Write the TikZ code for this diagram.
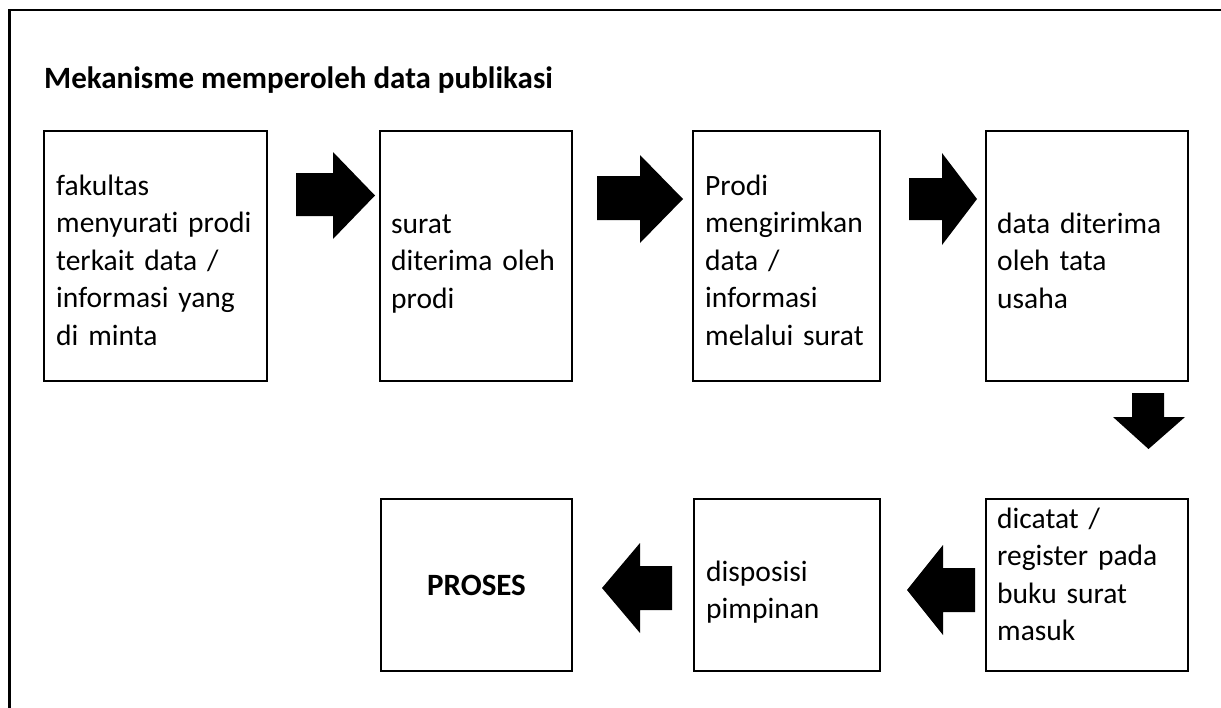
\documentclass[tikz,border=0pt]{standalone}
\usepackage{fontspec}
\setmainfont{Carlito}[Ligatures=NoCommon]
\begin{document}
\begin{tikzpicture}[x=1pt,y=-1pt,
  box/.style={draw,line width=2.3pt,inner sep=0pt},
  txt/.style={inner sep=0pt,anchor=base west,align=left,text width=260pt,
              font=\fontsize{29.5}{37.5}\selectfont},
  blk/.style={fill=black}]
\useasboundingbox (0,0) rectangle (1221,707);
% frame
\draw[line width=2.8pt] (9.5,708) -- (9.5,10) -- (1222,10);
% title
\node[inner sep=0pt,anchor=base west,font=\bfseries\fontsize{31}{37}\selectfont] (title) at (44,88) {Mekanisme memperoleh data publikasi};
% boxes top row
\node[box,minimum width=223pt,minimum height=250pt] (b1) at (155.5,256) {};
\node[box,minimum width=192pt,minimum height=250pt] (b2) at (476,256) {};
\node[box,minimum width=187pt,minimum height=250pt] (b3) at (786.5,256) {};
\node[box,minimum width=202pt,minimum height=250pt] (b4) at (1087,256) {};
% boxes bottom row
\node[box,minimum width=202pt,minimum height=172pt] (b5) at (1087,585) {};
\node[box,minimum width=186pt,minimum height=172pt] (b6) at (787,585) {};
\node[box,minimum width=191pt,minimum height=172pt,font=\bfseries\fontsize{31}{37}\selectfont] (b7) at (476.5,585) {PROSES};
% texts
\node[txt] (t1) at (56,195) {fakultas\\menyurati prodi\\terkait data /\\informasi yang\\di minta};
\node[txt] (t2) at (391,233) {surat\\diterima oleh\\prodi};
\node[txt] (t3) at (705,195) {Prodi\\mengirimkan\\data /\\informasi\\melalui surat};
\node[txt] (t4) at (997,233) {data diterima\\oleh tata\\usaha};
\node[txt] (t5) at (997,528) {dicatat /\\register pada\\buku surat\\masuk};
\node[txt] (t6) at (706,581) {disposisi\\pimpinan};
% block arrows
\fill[blk] (296,173) -- (333,173) -- (333,152) -- (375,195.5) -- (333,239) -- (333,216) -- (296,216) -- cycle;
\fill[blk] (597,176) -- (640,176) -- (640,155) -- (683,199) -- (640,243) -- (640,220) -- (597,220) -- cycle;
\fill[blk] (909,178) -- (942,178) -- (942,153) -- (977,199) -- (942,245) -- (942,220) -- (909,220) -- cycle;
\fill[blk] (1132,393) -- (1164,393) -- (1164,417) -- (1185,417) -- (1148.5,449) -- (1113,417) -- (1132,417) -- cycle;
\fill[blk] (975,568) -- (943,568) -- (943,545) -- (907,590) -- (943,635) -- (943,612) -- (975,612) -- cycle;
\fill[blk] (672,566) -- (640,566) -- (640,543) -- (602,588) -- (640,633) -- (640,610) -- (672,610) -- cycle;
\end{tikzpicture}
\end{document}
